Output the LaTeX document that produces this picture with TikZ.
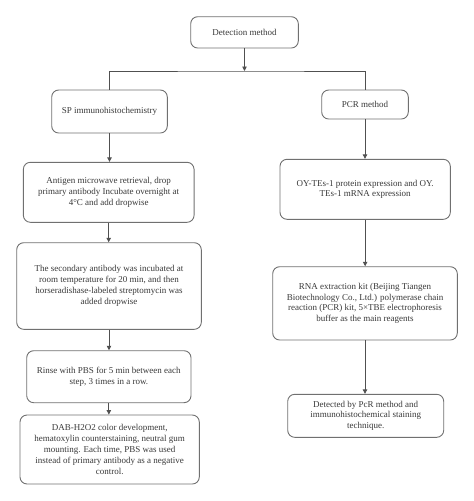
\documentclass[tikz,border=0pt]{standalone}
\usepackage{fontspec}
\setmainfont{Liberation Serif}
\usetikzlibrary{arrows.meta}
\definecolor{txt}{HTML}{383838}
\definecolor{edge}{HTML}{707070}
\definecolor{conn}{HTML}{505050}
\begin{document}
\begin{tikzpicture}[x=1pt,y=-1pt,
  box/.style={draw=edge, line width=0.9pt, rounded corners=7pt, inner sep=0pt, align=center,
    text=txt, font=\fontsize{9}{10.8}\selectfont},
  conn/.style={draw=conn, line width=0.8pt},
  arr/.style={conn, -{Triangle[width=4.5pt,length=4.5pt]}}]
\useasboundingbox (0,0) rectangle (474,501);
\node[box, minimum width=107.6pt, minimum height=31.3pt] (det) at (244.5,32.35) {Detection method};
\node[box, minimum width=115.6pt, minimum height=43pt] (sp) at (109.5,111.5) {SP immunohistochemistry};
\node[box, minimum width=86.6pt, minimum height=29pt] (pcr) at (365,104.5) {PCR method};
\node[box, minimum width=170.7pt, minimum height=60pt] (ant) at (108.7,192.3) {Antigen microwave retrieval, drop\\primary antibody Incubate overnight at\\4°C and add dropwise};
\node[box, minimum width=184.6pt, minimum height=86.6pt] (sec) at (109,286) {The secondary antibody was incubated at\\room temperature for 20 min, and then\\horseradishase-labeled streptomycin was\\added dropwise};
\node[box, minimum width=164.3pt, minimum height=52pt] (rin) at (108.85,376.7) {Rinse with PBS for 5 min between each\\step, 3 times in a row.};
\node[box, minimum width=179.3pt, minimum height=69pt] (dab) at (109.65,449.5) {DAB-H2O2 color development,\\hematoxylin counterstaining, neutral gum\\mounting. Each time, PBS was used\\instead of primary antibody as a negative\\control.};
\node[box, minimum width=170.3pt, minimum height=60pt] (oy) at (365.15,189.3) {OY-TEs-1 protein expression and OY.\\TEs-1 mRNA expression};
\node[box, minimum width=184.6pt, minimum height=73.3pt] (rna) at (365,303.35) {RNA extraction kit (Beijing Tiangen\\Biotechnology Co., Ltd.) polymerase chain\\reaction (PCR) kit, 5×TBE electrophoresis\\buffer as the main reagents};
\node[box, minimum width=156pt, minimum height=43pt] (detd) at (365.7,415.8) {Detected by PcR method and\\immunohistochemical staining\\technique.};
\coordinate (junc) at (244.5,71);
\draw[arr] (det.south) -- (junc);
\draw[conn] (sp.north) |- (junc) -| (pcr.north);
\draw[arr] (sp.south) -- (sp.south |- ant.north);
\draw[arr] (ant.south) -- (ant.south |- sec.north);
\draw[arr] (sec.south) -- (sec.south |- rin.north);
\draw[arr] (rin.south) -- (rin.south |- dab.north);
\draw[arr] (pcr.south) -- (pcr.south |- oy.north);
\draw[arr] (oy.south) -- (oy.south |- rna.north);
\draw[arr] (rna.south) -- (rna.south |- detd.north);
\end{tikzpicture}
\end{document}
